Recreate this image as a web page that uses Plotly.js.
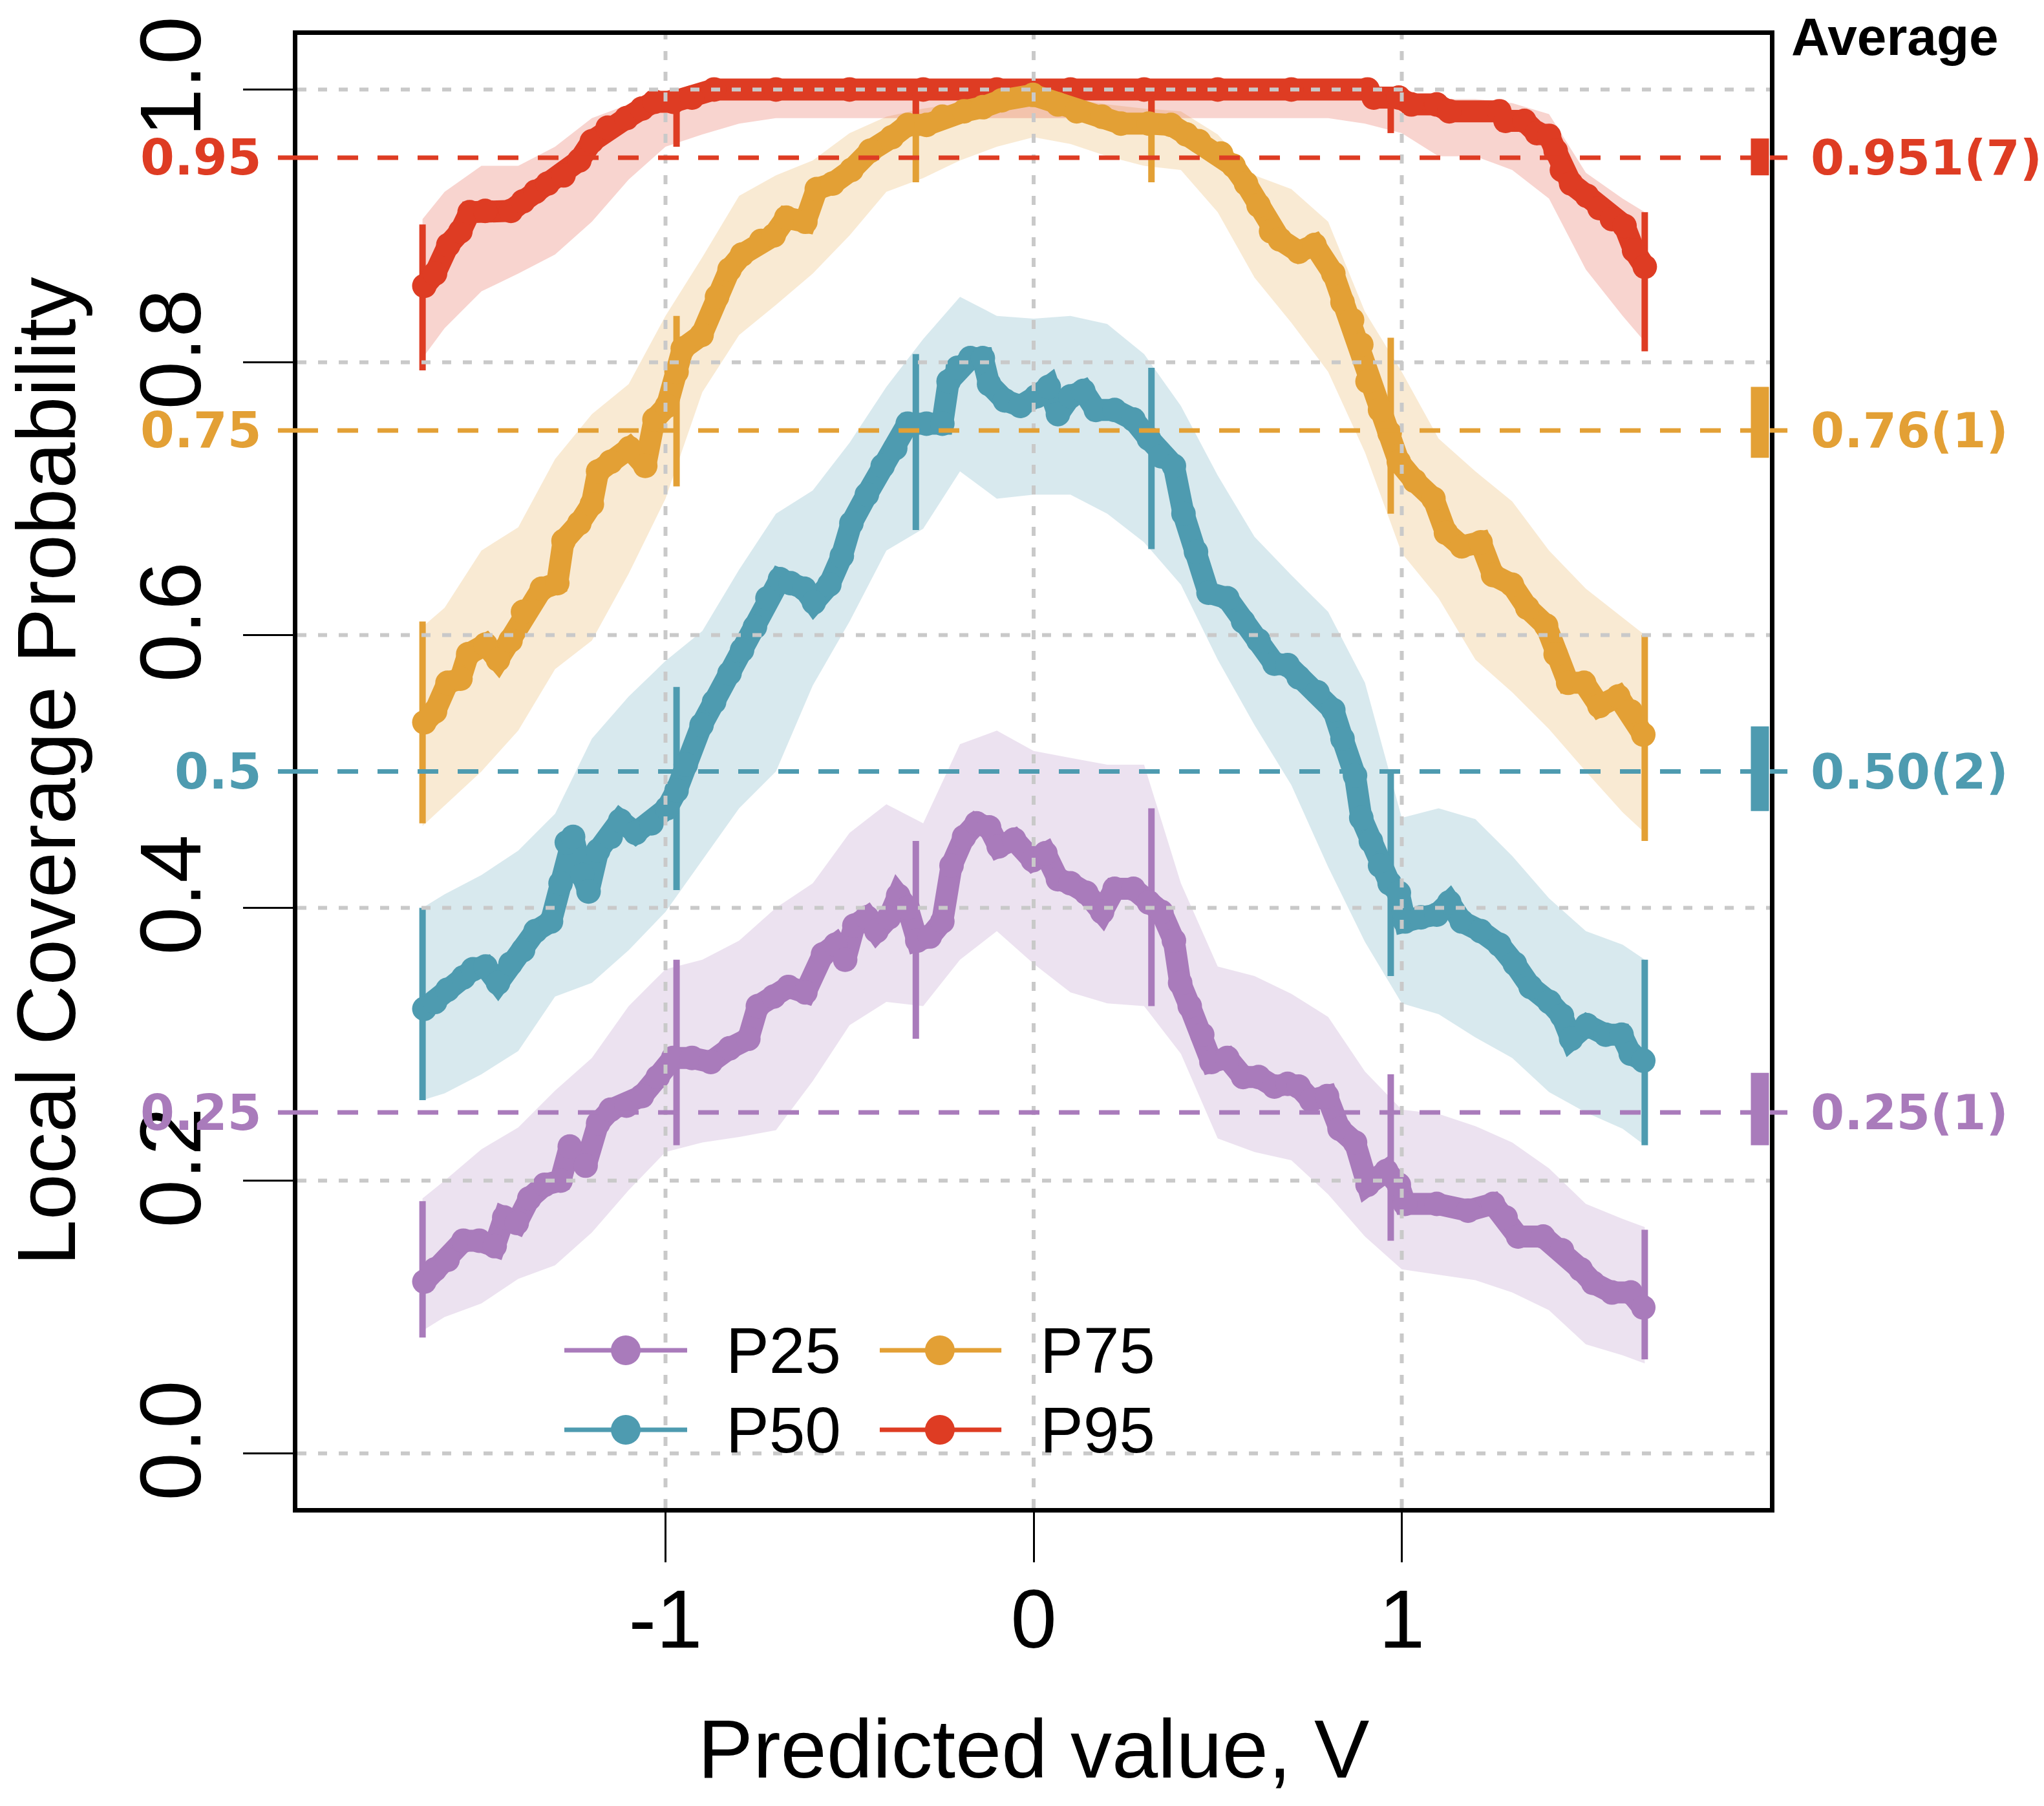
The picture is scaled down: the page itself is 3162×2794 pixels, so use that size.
<!DOCTYPE html>
<html>
<head>
<meta charset="utf-8">
<script src="https://cdn.plot.ly/plotly-3.0.1.min.js"></script>
<style>
html,body{margin:0;padding:0;background:#ffffff;overflow:hidden;}
#chart{width:3162px;height:2794px;}
</style>
</head>
<body>
<div id="chart"></div>
<script>
// ---------------- data ----------------
const seriesNames = ['P25', 'P50', 'P75', 'P95'];
const seriesColors = ['#A97BBB', '#4E9BB0', '#E3A035', '#DE3C23'];
const targetLevels = [0.25, 0.5, 0.75, 0.95];
const targetLabels = ['0.25', '0.5', '0.75', '0.95'];
const averageLabels = ['0.25(1)', '0.50(2)', '0.76(1)', '0.951(7)'];
const averageLo = [0.226, 0.471, 0.730, 0.937];
const averageHi = [0.279, 0.533, 0.782, 0.964];

const xTickVals = [-1, 0, 1];
const xTickText = ['-1', '0', '1'];
const yTickVals = [0, 0.2, 0.4, 0.6, 0.8, 1.0];
const yTickText = ['0.0', '0.2', '0.4', '0.6', '0.8', '1.0'];

// local coverage curves
const p25X = [-1.655,-1.626,-1.592,-1.549,-1.506,-1.464,-1.438,-1.404,-1.370,-1.328,-1.285,-1.26,-1.217,-1.183,-1.149,-1.106,-1.064,-1.021,-0.979,-0.928,-0.877,-0.826,-0.775,-0.749,-0.706,-0.666,-0.62,-0.572,-0.538,-0.512,-0.487,-0.453,-0.427,-0.393,-0.368,-0.342,-0.316,-0.282,-0.248,-0.223,-0.189,-0.155,-0.121,-0.095,-0.053,-0.002,0.032,0.066,0.1,0.143,0.186,0.22,0.271,0.313,0.347,0.381,0.398,0.424,0.458,0.483,0.526,0.569,0.611,0.654,0.69,0.72,0.754,0.797,0.831,0.873,0.907,0.958,0.992,1.009,1.095,1.18,1.248,1.282,1.316,1.384,1.435,1.486,1.52,1.571,1.622,1.656];
const p25Y = [0.126,0.135,0.142,0.156,0.156,0.152,0.173,0.169,0.187,0.197,0.2,0.225,0.211,0.242,0.252,0.255,0.262,0.276,0.29,0.29,0.287,0.297,0.304,0.328,0.335,0.342,0.338,0.366,0.373,0.362,0.387,0.393,0.383,0.393,0.409,0.4,0.376,0.379,0.39,0.431,0.452,0.462,0.459,0.445,0.45,0.435,0.44,0.421,0.418,0.411,0.397,0.414,0.414,0.404,0.397,0.376,0.345,0.328,0.307,0.287,0.29,0.276,0.276,0.269,0.271,0.269,0.259,0.262,0.238,0.228,0.197,0.207,0.197,0.183,0.183,0.178,0.183,0.173,0.159,0.159,0.149,0.135,0.125,0.118,0.118,0.107];

const p50X = [-1.655,-1.626,-1.592,-1.549,-1.523,-1.489,-1.455,-1.421,-1.387,-1.353,-1.311,-1.285,-1.268,-1.251,-1.226,-1.209,-1.183,-1.149,-1.123,-1.081,-1.038,-0.996,-0.970,-0.945,-0.902,-0.868,-0.826,-0.792,-0.757,-0.723,-0.689,-0.66,-0.623,-0.597,-0.555,-0.521,-0.495,-0.453,-0.41,-0.376,-0.342,-0.291,-0.248,-0.231,-0.206,-0.172,-0.138,-0.121,-0.078,-0.036,0.007,0.041,0.066,0.1,0.135,0.169,0.22,0.271,0.313,0.347,0.381,0.407,0.441,0.475,0.526,0.569,0.611,0.654,0.69,0.72,0.771,0.814,0.839,0.873,0.89,0.916,0.941,0.967,0.992,1.009,1.052,1.095,1.129,1.163,1.214,1.265,1.307,1.35,1.401,1.435,1.46,1.503,1.554,1.597,1.622,1.656];
const p50Y = [0.326,0.331,0.340,0.349,0.355,0.357,0.345,0.359,0.369,0.383,0.39,0.418,0.448,0.452,0.424,0.412,0.442,0.452,0.464,0.455,0.462,0.473,0.486,0.505,0.534,0.551,0.572,0.589,0.606,0.627,0.641,0.638,0.634,0.624,0.637,0.658,0.682,0.703,0.724,0.737,0.755,0.755,0.755,0.786,0.796,0.803,0.803,0.784,0.772,0.768,0.775,0.782,0.762,0.775,0.779,0.765,0.765,0.758,0.744,0.731,0.724,0.689,0.661,0.631,0.627,0.610,0.596,0.579,0.578,0.569,0.558,0.545,0.524,0.497,0.466,0.449,0.431,0.418,0.411,0.390,0.393,0.395,0.404,0.390,0.383,0.373,0.359,0.342,0.331,0.321,0.304,0.314,0.307,0.307,0.293,0.288];

const p75X = [-1.655,-1.626,-1.592,-1.557,-1.536,-1.489,-1.455,-1.421,-1.387,-1.336,-1.294,-1.277,-1.234,-1.2,-1.183,-1.149,-1.098,-1.055,-1.03,-0.996,-0.97,-0.953,-0.902,-0.86,-0.826,-0.792,-0.74,-0.706,-0.672,-0.62,-0.589,-0.546,-0.495,-0.444,-0.385,-0.342,-0.291,-0.248,-0.189,-0.138,-0.087,-0.002,0.066,0.117,0.186,0.237,0.313,0.373,0.415,0.449,0.509,0.543,0.577,0.611,0.645,0.669,0.72,0.763,0.814,0.839,0.865,0.89,0.907,0.941,0.967,0.992,1.035,1.086,1.12,1.163,1.214,1.248,1.299,1.341,1.392,1.418,1.452,1.495,1.537,1.588,1.622,1.656];
const p75Y = [0.536,0.544,0.565,0.568,0.586,0.593,0.582,0.596,0.617,0.634,0.638,0.669,0.682,0.696,0.72,0.727,0.737,0.724,0.758,0.768,0.793,0.81,0.82,0.848,0.868,0.879,0.889,0.893,0.906,0.903,0.927,0.931,0.941,0.955,0.965,0.974,0.974,0.98,0.984,0.987,0.992,0.996,0.989,0.984,0.98,0.975,0.975,0.974,0.967,0.962,0.953,0.944,0.931,0.915,0.896,0.89,0.881,0.886,0.865,0.844,0.831,0.813,0.786,0.765,0.748,0.727,0.713,0.7,0.675,0.665,0.668,0.644,0.637,0.62,0.607,0.586,0.565,0.565,0.548,0.555,0.544,0.527];

const p95X = [-1.655,-1.626,-1.59,-1.557,-1.532,-1.49,-1.42,-1.387,-1.353,-1.32,-1.277,-1.234,-1.2,-1.157,-1.106,-1.064,-1.03,-0.979,-0.928,-0.868,-0.7,-0.5,-0.3,-0.1,0.1,0.3,0.5,0.7,0.907,0.924,0.992,1.026,1.095,1.129,1.265,1.282,1.333,1.367,1.4,1.418,1.435,1.46,1.503,1.537,1.571,1.605,1.631,1.66];
const p95Y = [0.856,0.865,0.886,0.896,0.910,0.911,0.911,0.918,0.925,0.931,0.937,0.948,0.962,0.972,0.979,0.986,0.991,0.991,0.994,1.0,1.0,1.0,1.0,1.0,1.0,1.0,1.0,1.0,1.0,0.994,0.994,0.989,0.989,0.984,0.984,0.977,0.977,0.968,0.966,0.955,0.941,0.931,0.922,0.913,0.905,0.9,0.882,0.870];

// uncertainty bands (upper / lower edge)
const bandX = [-1.66,-1.6,-1.5,-1.4,-1.3,-1.2,-1.1,-1.0,-0.9,-0.8,-0.7,-0.6,-0.5,-0.4,-0.3,-0.2,-0.1,0,0.1,0.2,0.3,0.4,0.5,0.6,0.7,0.8,0.9,1.0,1.1,1.2,1.3,1.4,1.5,1.6,1.66];
const p25Hi = [0.187,0.20,0.223,0.239,0.266,0.29,0.328,0.355,0.362,0.376,0.40,0.418,0.455,0.476,0.462,0.52,0.53,0.515,0.51,0.505,0.505,0.418,0.357,0.35,0.337,0.32,0.28,0.252,0.249,0.24,0.228,0.209,0.183,0.172,0.166];
const p25Lo = [0.09,0.10,0.11,0.128,0.138,0.162,0.193,0.221,0.228,0.232,0.237,0.273,0.314,0.331,0.328,0.362,0.383,0.359,0.338,0.33,0.328,0.293,0.231,0.221,0.215,0.19,0.159,0.135,0.131,0.127,0.118,0.105,0.08,0.072,0.066];
const p50Hi = [0.40,0.41,0.424,0.442,0.469,0.524,0.555,0.581,0.603,0.648,0.689,0.706,0.741,0.782,0.817,0.848,0.834,0.832,0.834,0.828,0.806,0.768,0.717,0.672,0.644,0.617,0.565,0.466,0.473,0.465,0.438,0.407,0.383,0.373,0.362];
const p50Lo = [0.259,0.264,0.278,0.295,0.335,0.345,0.369,0.397,0.435,0.473,0.50,0.563,0.61,0.662,0.678,0.72,0.70,0.703,0.703,0.689,0.668,0.637,0.582,0.534,0.49,0.43,0.375,0.33,0.322,0.305,0.29,0.265,0.25,0.238,0.226];
const p75Hi = [0.606,0.62,0.662,0.679,0.729,0.762,0.784,0.834,0.877,0.922,0.937,0.948,0.968,0.98,0.986,0.99,0.993,0.996,0.993,0.989,0.986,0.984,0.967,0.937,0.927,0.903,0.837,0.793,0.744,0.72,0.698,0.662,0.634,0.613,0.60];
const p75Lo = [0.46,0.475,0.50,0.53,0.575,0.596,0.645,0.70,0.778,0.82,0.842,0.865,0.893,0.925,0.935,0.948,0.958,0.965,0.96,0.951,0.944,0.941,0.91,0.862,0.829,0.793,0.734,0.66,0.627,0.582,0.558,0.531,0.5,0.47,0.455];
const p95Hi = [0.905,0.925,0.944,0.944,0.958,0.979,0.989,0.994,0.998,1,1,1,1,1,1,1,1,1,1,1,1,1,1,1,1,1,1,0.993,0.993,0.993,0.99,0.982,0.939,0.92,0.91];
const p95Lo = [0.803,0.825,0.852,0.865,0.879,0.903,0.934,0.958,0.967,0.975,0.979,0.979,0.979,0.979,0.979,0.979,0.979,0.979,0.979,0.979,0.979,0.979,0.979,0.979,0.979,0.979,0.975,0.968,0.951,0.951,0.941,0.92,0.868,0.834,0.815];

// error bars at selected V
const errX = [-1.66, -0.97, -0.32, 0.32, 0.97, 1.66];
const p25ErrLo = [0.085, 0.226, 0.304, 0.328, 0.156, 0.069];
const p25ErrHi = [0.185, 0.362, 0.449, 0.473, 0.278, 0.164];
const p50ErrLo = [0.259, 0.413, 0.677, 0.663, 0.350, 0.226];
const p50ErrHi = [0.400, 0.562, 0.806, 0.796, 0.500, 0.362];
const p75ErrLo = [0.462, 0.709, 0.932, 0.932, 0.689, 0.449];
const p75ErrHi = [0.610, 0.834, 0.996, 0.996, 0.818, 0.600];
const p95ErrLo = [0.794, 0.958, 0.977, 0.979, 0.968, 0.808];
const p95ErrHi = [0.901, 0.996, 1.000, 1.000, 0.999, 0.910];

// ---------------- build ----------------
const FONT = 'Liberation Sans, Arial, Helvetica, sans-serif';
const BOLDFONT = 'DejaVu Sans, Verdana, sans-serif';

function rgba(hex, a) {
  const n = parseInt(hex.slice(1), 16);
  return 'rgba(' + ((n >> 16) & 255) + ',' + ((n >> 8) & 255) + ',' + (n & 255) + ',' + a + ')';
}

const series = [
  {cx: p25X, cy: p25Y, hi: p25Hi, lo: p25Lo, eLo: p25ErrLo, eHi: p25ErrHi},
  {cx: p50X, cy: p50Y, hi: p50Hi, lo: p50Lo, eLo: p50ErrLo, eHi: p50ErrHi},
  {cx: p75X, cy: p75Y, hi: p75Hi, lo: p75Lo, eLo: p75ErrLo, eHi: p75ErrHi},
  {cx: p95X, cy: p95Y, hi: p95Hi, lo: p95Lo, eLo: p95ErrLo, eHi: p95ErrHi}
];

const traces = [];
series.forEach((s, i) => {
  traces.push({
    type: 'scatter', mode: 'lines',
    x: bandX.concat(bandX.slice().reverse()),
    y: s.hi.concat(s.lo.slice().reverse()),
    fill: 'toself', fillcolor: rgba(seriesColors[i], 0.22),
    line: {width: 0, color: 'rgba(0,0,0,0)'},
    hoverinfo: 'skip', showlegend: false
  });
});
series.forEach((s, i) => {
  const ex = [], ey = [];
  errX.forEach((x, k) => { ex.push(x, x, null); ey.push(s.eLo[k], s.eHi[k], null); });
  traces.push({
    type: 'scatter', mode: 'lines', x: ex, y: ey,
    line: {color: seriesColors[i], width: 10},
    hoverinfo: 'skip', showlegend: false
  });
});
[3, 2, 1, 0].forEach(i => {
  const s = series[i];
  traces.push({
    type: 'scatter', mode: 'lines+markers', name: seriesNames[i],
    x: s.cx, y: s.cy,
    line: {color: seriesColors[i], width: 34},
    marker: {color: seriesColors[i], size: 38},
    showlegend: false
  });
});

const shapes = [];
yTickVals.forEach(v => shapes.push({
  type: 'line', layer: 'above', xref: 'paper', x0: 0, x1: 1, yref: 'y', y0: v, y1: v,
  line: {color: '#C9C9C9', width: 6, dash: '14px,18px'}
}));
xTickVals.forEach(v => shapes.push({
  type: 'line', layer: 'above', yref: 'paper', y0: 0, y1: 1, xref: 'x', x0: v, x1: v,
  line: {color: '#C9C9C9', width: 6, dash: '14px,18px'}
}));
targetLevels.forEach((v, i) => {
  shapes.push({type: 'line', layer: 'above', xref: 'paper', x0: 0, x1: 1, yref: 'y', y0: v, y1: v,
    line: {color: seriesColors[i], width: 7, dash: '32px,30px'}});
  shapes.push({type: 'line', layer: 'above', xref: 'paper', x0: -0.0132, x1: 0, yref: 'y', y0: v, y1: v,
    line: {color: seriesColors[i], width: 7}});
  shapes.push({type: 'line', layer: 'above', xref: 'paper', x0: 1, x1: 1.0119, yref: 'y', y0: v, y1: v,
    line: {color: seriesColors[i], width: 7}});
  shapes.push({type: 'line', layer: 'above', xref: 'paper', x0: 0.9932, x1: 0.9932, yref: 'y', y0: averageLo[i], y1: averageHi[i],
    line: {color: seriesColors[i], width: 28}});
});

const annotations = [];
targetLevels.forEach((v, i) => {
  annotations.push({xref: 'paper', x: -0.0233, xanchor: 'right', yref: 'y', y: v, yanchor: 'middle',
    text: targetLabels[i], showarrow: false,
    font: {family: BOLDFONT, size: 76, weight: 'bold', color: seriesColors[i]}});
  annotations.push({xref: 'paper', x: 1.0268, xanchor: 'left', yref: 'y', y: v, yanchor: 'middle',
    text: averageLabels[i], showarrow: false,
    font: {family: BOLDFONT, size: 75, weight: 'bold', color: seriesColors[i]}});
});
annotations.push({xref: 'paper', x: 1.0136, xanchor: 'left', yref: 'paper', y: 0.999, yanchor: 'middle',
  text: 'Average', showarrow: false,
  font: {family: FONT, size: 82, weight: 'bold', color: '#000000'}});

// legend (two columns: P25/P50, P75/P95), drawn in paper coordinates
const legendCol = [0, 0, 1, 1];
const legendRow = [0, 1, 0, 1];
const legLineX0 = [0.1813, 0.3955];
const legLineX1 = [0.2647, 0.4781];
const legDotX = [0.2230, 0.4363];
const legTextX = [0.2902, 0.5035];
const legRowY = [0.1071, 0.0531];
seriesNames.forEach((nm, i) => {
  const c = legendCol[i], r = legendRow[i];
  shapes.push({type: 'line', layer: 'above', xref: 'paper', yref: 'paper',
    x0: legLineX0[c], x1: legLineX1[c], y0: legRowY[r], y1: legRowY[r],
    line: {color: seriesColors[i], width: 7}});
  shapes.push({type: 'circle', layer: 'above', xref: 'paper', yref: 'paper',
    xsizemode: 'pixel', ysizemode: 'pixel', xanchor: legDotX[c], yanchor: legRowY[r],
    x0: -23, x1: 23, y0: -23, y1: 23,
    fillcolor: seriesColors[i], line: {width: 0}});
  annotations.push({xref: 'paper', yref: 'paper', x: legTextX[c], y: legRowY[r],
    xanchor: 'left', yanchor: 'middle', text: nm, showarrow: false,
    font: {family: FONT, size: 100, color: '#000000'}});
});

const axisCommon = {
  showline: true, linecolor: '#000000', linewidth: 7, mirror: true,
  ticks: 'outside', ticklen: 77, tickwidth: 3, tickcolor: '#000000',
  showgrid: false, zeroline: false,
  tickfont: {family: FONT, size: 128, color: '#000000'}
};

const layout = {
  width: 3162, height: 2794,
  margin: {l: 460, r: 424, t: 54, b: 461},
  paper_bgcolor: '#ffffff', plot_bgcolor: '#ffffff',
  font: {family: FONT, color: '#000000'},
  showlegend: false,
  xaxis: Object.assign({}, axisCommon, {
    range: [-2, 2], tickmode: 'array', tickvals: xTickVals, ticktext: xTickText,
    ticklabelstandoff: -22,
    title: {text: 'Predicted value, V', font: {family: FONT, size: 128}, standoff: 88}
  }),
  yaxis: Object.assign({}, axisCommon, {
    range: [-0.04, 1.04], tickmode: 'array', tickvals: yTickVals, ticktext: yTickText,
    tickangle: -90, ticklabelstandoff: 12,
    tickfont: {family: FONT, size: 134, color: '#000000'},
    title: {text: 'Local Coverage Probability', font: {family: FONT, size: 128}, standoff: 92}
  }),
  shapes: shapes,
  annotations: annotations
};

Plotly.newPlot('chart', traces, layout, {displayModeBar: false, staticPlot: true});
</script>
</body>
</html>
